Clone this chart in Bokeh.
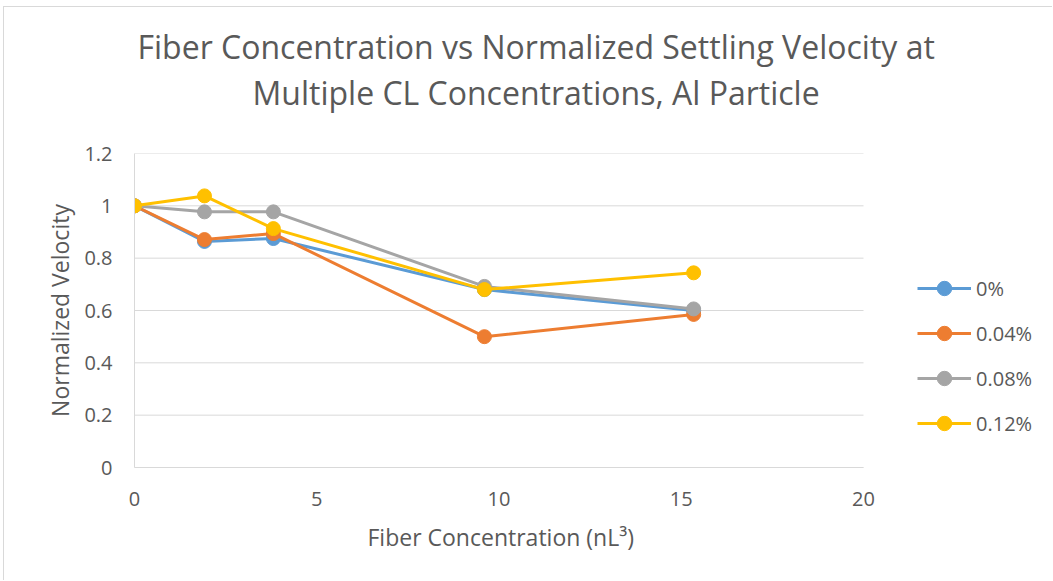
from bokeh.plotting import figure
from bokeh.models import Title, Legend, LegendItem, FixedTicker, Range1d
from bokeh.embed import file_html
from bokeh.resources import INLINE

# ---- data ----
fiber_conc = [0, 1.92, 3.81, 9.6, 15.34]
v_0 = [1.0, 0.864, 0.875, 0.68, 0.60]
v_004 = [1.0, 0.871, 0.894, 0.50, 0.585]
v_008 = [1.0, 0.977, 0.977, 0.692, 0.606]
v_012 = [1.0, 1.038, 0.913, 0.68, 0.744]
series_names = ["0%", "0.04%", "0.08%", "0.12%"]
series_colors = ["#5B9BD5", "#ED7D31", "#A5A5A5", "#FFC000"]
x_ticks = [0, 5, 10, 15, 20]
y_ticks = [0, 0.2, 0.4, 0.6, 0.8, 1.0, 1.2]
y_tick_labels = ["0", "0.2", "0.4", "0.6", "0.8", "1", "1.2"]
title_lines = ["Fiber Concentration vs Normalized Settling Velocity at",
               "Multiple CL Concentrations, Al Particle"]
x_label = "Fiber Concentration (nL\u00b3)"
y_label = "Normalized Velocity"

FONT = "Open Sans"
TXT = "#595959"
GRID = "#D9D9D9"

# axes span 0..20 over 729 px; the frame extends further right (919 px)
# to hold the legend, so the x range runs past 20.
x_min, x_max = x_ticks[0], x_ticks[-1]
x_end = x_max * 919 / 729

p = figure(width=1049, height=574, output_backend="svg", toolbar_location=None,
           title=None,
           x_range=Range1d(x_min, x_end), y_range=Range1d(y_ticks[0], y_ticks[-1]),
           min_border_left=130, min_border_right=0, min_border_top=146, min_border_bottom=114)
p.styles = {"margin-left": "3px", "margin-top": "6px",
            "border-left": "1px solid #D9D9D9", "border-top": "1px solid #D9D9D9"}
p.outline_line_color = None
p.background_fill_color = "white"
p.border_fill_color = "white"

p.xgrid.grid_line_color = None
p.ygrid.grid_line_color = None
# horizontal gridlines limited to the 0..20 axis extent
p.segment(x0=[x_min] * len(y_ticks), x1=[x_max] * len(y_ticks), y0=y_ticks, y1=y_ticks,
          line_color=GRID, line_width=1)

p.xaxis.ticker = FixedTicker(ticks=x_ticks)
p.yaxis.ticker = FixedTicker(ticks=y_ticks)
p.yaxis.major_label_overrides = {t: l for t, l in zip(y_ticks, y_tick_labels)}
p.xaxis.bounds = (x_min, x_max)

for ax in (p.xaxis, p.yaxis):
    ax.axis_line_color = GRID
    ax.axis_line_width = 1
    ax.major_tick_line_color = None
    ax.minor_tick_line_color = None
    ax.major_tick_out = 0
    ax.major_tick_in = 0
    ax.major_label_text_font = FONT
    ax.major_label_text_font_size = "20px"
    ax.major_label_text_color = TXT
    ax.axis_label_text_font = FONT
    ax.axis_label_text_font_size = "23px"
    ax.axis_label_text_color = TXT
    ax.axis_label_text_font_style = "normal"

p.yaxis.axis_label = y_label
p.xaxis.major_label_standoff = 24
p.yaxis.major_label_standoff = 22
p.yaxis.axis_label_standoff = 5

# x label centred under the 0..20 axis (not under the wider frame)
p.add_layout(Title(text=x_label, align="left", offset=233, text_font=FONT,
                   text_font_size="23px", text_color=TXT, text_font_style="normal",
                   standoff=21), "below")

items = []
for name, col, ys in zip(series_names, series_colors, [v_0, v_004, v_008, v_012]):
    r1 = p.line(fiber_conc, ys, line_color=col, line_width=3)
    r2 = p.scatter(fiber_conc, ys, size=14, fill_color=col, line_color=col)
    items.append(LegendItem(label=name, renderers=[r1, r2]))

legend = Legend(items=items, location=(783, 26))
legend.padding = 0
legend.margin = 0
legend.border_line_alpha = 0
legend.background_fill_alpha = 0
legend.glyph_width = 54
legend.glyph_height = 36
legend.label_height = 36
legend.spacing = 9
legend.label_standoff = 5
legend.label_text_font = FONT
legend.label_text_font_size = "20px"
legend.label_text_color = TXT
p.add_layout(legend, "center")

# blank spacer between the two-line title and the plot frame
p.add_layout(Title(text=" ", text_font_size="10px", standoff=25), "above")
for t, off, so in zip(reversed(title_lines), [118, 3], [3, 0]):
    p.add_layout(Title(text=t, align="left", offset=off, text_font=FONT,
                       text_font_size="32px", text_color=TXT,
                       text_font_style="normal", standoff=so), "above")

open("out.html", "w").write(file_html(p, INLINE))
